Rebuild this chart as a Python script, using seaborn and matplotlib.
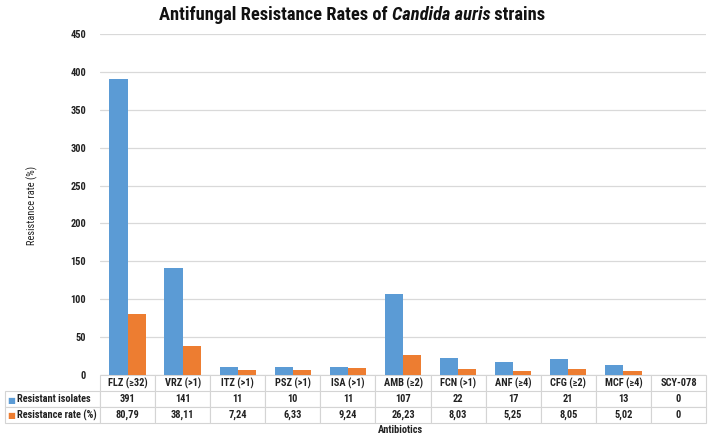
import matplotlib
matplotlib.use("Agg")
import matplotlib.pyplot as plt
from matplotlib import font_manager
import pandas as pd
import seaborn as sns

categories = ["FLZ (≥32)", "VRZ (>1)", "ITZ (>1)", "PSZ (>1)", "ISA (>1)", "AMB (≥2)",
              "FCN (>1)", "ANF (≥4)", "CFG (≥2)", "MCF (≥4)", "SCY-078"]
isolates = [391, 141, 11, 10, 11, 107, 22, 17, 21, 13, 0]
rates = [80.79, 38.11, 7.24, 6.33, 9.24, 26.23, 8.03, 5.25, 8.05, 5.02, 0]
rate_labels = ["80,79", "38,11", "7,24", "6,33", "9,24", "26,23", "8,03", "5,25",
               "8,05", "5,02", "0"]
series = ["Resistant isolates", "Resistance rate (%)"]
colors = ["#5b9bd5", "#ed7d31"]

# a narrow bold face, close to Arial Narrow
bold_names = {f.name for f in font_manager.fontManager.ttflist
              if f.weight in (700, "bold") and f.style == "normal"}
fam = next((n for n in ["Liberation Sans Narrow", "Roboto Condensed", "Fira Sans Condensed",
                        "Archivo Narrow", "IBM Plex Sans Condensed"]
            if n in bold_names), "Liberation Sans")

sns.set_theme(style="white")
plt.rcParams["font.family"] = [fam, "DejaVu Sans"]

df = pd.DataFrame({
    "cat": categories * 2,
    "val": isolates + rates,
    "series": [series[0]] * len(categories) + [series[1]] * len(categories),
})

W, H = 709, 437
fig = plt.figure(figsize=(W / 100, H / 100), dpi=100)
ax = fig.add_axes([100 / W, 1 - 375 / H, 606 / W, (375 - 34) / H])

sns.barplot(data=df, x="cat", y="val", hue="series", palette=colors, width=0.66,
            gap=0, saturation=1, legend=False, linewidth=0, ax=ax)

ax.set_ylim(0, 450)
ax.set_yticks(range(0, 451, 50))
ax.grid(axis="y", color="#d9d9d9", linewidth=0.9)
ax.set_axisbelow(True)
for s in ax.spines.values():
    s.set_visible(False)
ax.set_xticks([])
ax.set_xlabel("")
ax.set_ylabel("")
ax.tick_params(axis="y", length=0, pad=10, labelsize=7.5)
for t in ax.get_yticklabels():
    t.set_fontweight("bold")
    t.set_color("#222222")

# data table under the axis
cell_text = [[""] + categories,
             [series[0]] + [str(v) for v in isolates],
             [series[1]] + rate_labels]
tb = ax.table(cellText=cell_text, cellLoc="center",
              bbox=[(5 - 100) / 606, -48 / 341, (706 - 5) / 606, 48 / 341])
tb.auto_set_font_size(False)
tb.set_fontsize(7.5)
lab_w = 95 / 606
col_w = 1 / len(categories)
for (r, c), cell in tb.get_celld().items():
    cell.set_edgecolor("#d4d4d4")
    cell.set_linewidth(0.8)
    cell.set_width(lab_w if c == 0 else col_w)
    cell.get_text().set_fontweight("bold")
    cell.get_text().set_color("#222222")
    if r == 0 and c == 0:
        cell.visible_edges = ""
    elif r == 0:
        cell.visible_edges = "LTR"
    if c == 0 and r > 0:
        cell._loc = "left"
        cell.get_text().set_ha("left")
        cell.PAD = 12 / 95

for i, col in enumerate(colors):
    fig.text(7 / W, 1 - (400 + 15.5 * i) / H, "■", color=col, fontsize=6,
             va="center", ha="left", family="DejaVu Sans")

fig.text(32 / W, 1 - 205 / H, "Resistance rate (%)", rotation=90, ha="center",
         va="center", fontsize=7.5, color="#222222")
fig.text(400 / W, 1 - 430 / H, "Antibiotics", ha="center", va="center",
         fontsize=7.5, fontweight="bold", color="#222222")

# title with italic species name
parts = [("Antifungal Resistance Rates of ", "normal"), ("Candida auris", "italic"),
         (" strains", "normal")]
fig.canvas.draw()
r = fig.canvas.get_renderer()
texts = []
for s, st in parts:
    t = fig.text(0, 1 - 15 / H, s, fontsize=13.3, fontweight="bold", style=st,
                 va="center", ha="left", color="#111111")
    texts.append(t)
widths = [t.get_window_extent(r).width for t in texts]
x = 352 - sum(widths) / 2
for t, w in zip(texts, widths):
    t.set_x(x / W)
    x += w

fig.savefig("out.png", dpi=100)
